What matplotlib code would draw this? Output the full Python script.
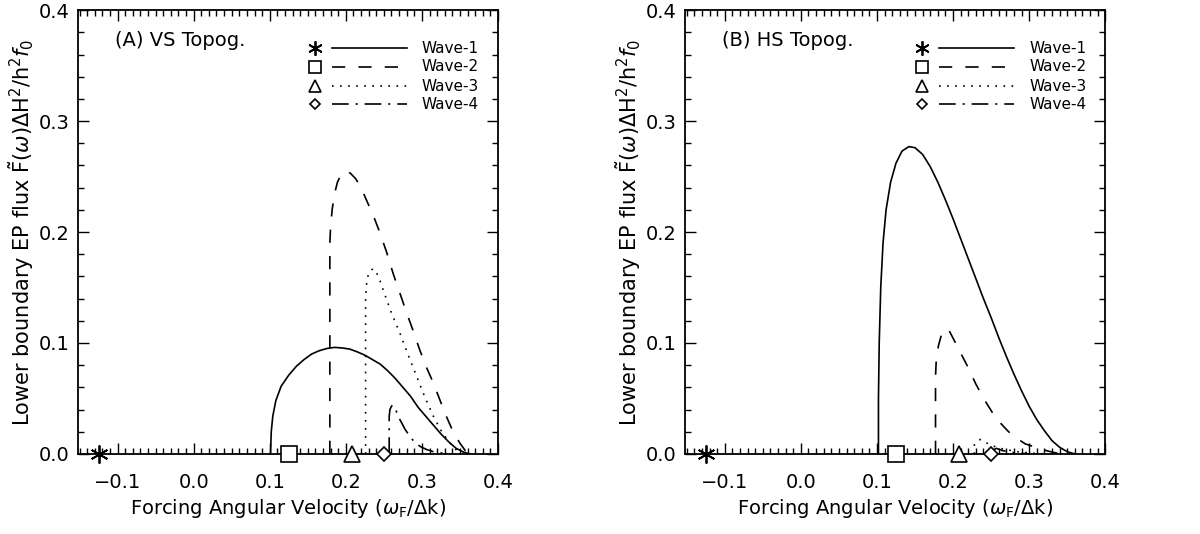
import matplotlib
matplotlib.use("Agg")
import matplotlib.pyplot as plt
from matplotlib.ticker import MultipleLocator

plt.rcParams['font.family'] = ['DejaVu Sans']
plt.rcParams['mathtext.fontset'] = 'dejavusans'
plt.rcParams['lines.scale_dashes'] = False

# ---------------- data ----------------
labels = ["Wave-1", "Wave-2", "Wave-3", "Wave-4"]
critical_x = [-0.125, 0.125, 0.208, 0.250]

# Panel A: VS Topog.
a_w1_x = [0.101, 0.102, 0.104, 0.108, 0.115, 0.125, 0.135, 0.145, 0.155, 0.165,
          0.175, 0.185, 0.195, 0.205, 0.215, 0.225, 0.235, 0.245, 0.255, 0.265,
          0.275, 0.285, 0.295, 0.305, 0.315, 0.325, 0.335, 0.345, 0.355, 0.363]
a_w1_y = [0.000, 0.020, 0.034, 0.048, 0.061, 0.071, 0.079, 0.085, 0.090, 0.093,
          0.095, 0.096, 0.0955, 0.0945, 0.092, 0.089, 0.085, 0.081, 0.075, 0.068,
          0.060, 0.052, 0.042, 0.034, 0.026, 0.018, 0.011, 0.005, 0.0015, 0.000]
a_w2_x = [0.179, 0.179, 0.180, 0.182, 0.185, 0.189, 0.194, 0.200, 0.206, 0.213,
          0.220, 0.227, 0.236, 0.245, 0.254, 0.262, 0.271, 0.280, 0.289, 0.297,
          0.306, 0.315, 0.324, 0.332, 0.341, 0.350, 0.357, 0.363]
a_w2_y = [0.000, 0.190, 0.205, 0.220, 0.234, 0.245, 0.252, 0.255, 0.253, 0.248,
          0.240, 0.229, 0.215, 0.199, 0.181, 0.163, 0.145, 0.127, 0.110, 0.094,
          0.078, 0.064, 0.048, 0.034, 0.020, 0.0096, 0.003, 0.000]
a_w3_x = [0.226, 0.226, 0.227, 0.229, 0.232, 0.236, 0.240, 0.245, 0.250, 0.260,
          0.271, 0.282, 0.293, 0.304, 0.315, 0.326, 0.337, 0.346, 0.354]
a_w3_y = [0.000, 0.140, 0.152, 0.160, 0.165, 0.167, 0.164, 0.156, 0.146, 0.127,
          0.109, 0.089, 0.070, 0.051, 0.034, 0.020, 0.0096, 0.003, 0.000]
a_w4_x = [0.257, 0.257, 0.258, 0.260, 0.262, 0.266, 0.271, 0.278, 0.284, 0.291,
          0.298, 0.306, 0.315, 0.333]
a_w4_y = [0.000, 0.034, 0.040, 0.043, 0.044, 0.039, 0.031, 0.022, 0.016, 0.010,
          0.0066, 0.004, 0.002, 0.000]

# Panel B: HS Topog.
b_w1_x = [0.102, 0.102, 0.103, 0.105, 0.108, 0.112, 0.118, 0.125, 0.133, 0.142,
          0.150, 0.160, 0.170, 0.180, 0.190, 0.200, 0.210, 0.220, 0.230, 0.240,
          0.250, 0.260, 0.270, 0.280, 0.290, 0.300, 0.310, 0.320, 0.330, 0.340,
          0.350, 0.360]
b_w1_y = [0.000, 0.050, 0.100, 0.150, 0.190, 0.220, 0.245, 0.262, 0.273, 0.277,
          0.276, 0.270, 0.259, 0.245, 0.229, 0.212, 0.194, 0.176, 0.158, 0.140,
          0.123, 0.105, 0.088, 0.072, 0.057, 0.043, 0.031, 0.021, 0.012, 0.006,
          0.002, 0.000]
b_w2_x = [0.177, 0.177, 0.178, 0.181, 0.185, 0.190, 0.195, 0.201, 0.210, 0.219,
          0.230, 0.241, 0.252, 0.262, 0.273, 0.284, 0.295, 0.306, 0.317, 0.328, 0.341]
b_w2_y = [0.000, 0.070, 0.085, 0.098, 0.108, 0.113, 0.111, 0.103, 0.091, 0.079,
          0.063, 0.049, 0.037, 0.028, 0.020, 0.014, 0.009, 0.0066, 0.004, 0.002, 0.000]
b_w3_x = [0.228, 0.228, 0.231, 0.236, 0.249, 0.262, 0.284, 0.306, 0.320]
b_w3_y = [0.000, 0.008, 0.011, 0.013, 0.008, 0.005, 0.002, 0.0006, 0.000]
b_w4_x = [0.254, 0.254, 0.257, 0.265, 0.280, 0.300]
b_w4_y = [0.000, 0.004, 0.005, 0.003, 0.001, 0.000]

panels = [
    ("(A) VS Topog.", [(a_w1_x, a_w1_y), (a_w2_x, a_w2_y), (a_w3_x, a_w3_y), (a_w4_x, a_w4_y)]),
    ("(B) HS Topog.", [(b_w1_x, b_w1_y), (b_w2_x, b_w2_y), (b_w3_x, b_w3_y), (b_w4_x, b_w4_y)]),
]

# ---------------- styles ----------------
styles = [
    dict(linestyle='-'),
    dict(linestyle=(0, (9.5, 9.5))),
    dict(linestyle=(0, (1.2, 4.6))),
    dict(linestyle=(0, (12, 5, 1.5, 5))),
]
markers = [dict(marker=(6, 2, 0), ms=13, mew=1.3),
           dict(marker='s', ms=11, mew=1.2),
           dict(marker='^', ms=11, mew=1.2),
           dict(marker='D', ms=7, mew=1.2)]

fig = plt.figure(figsize=(12, 5.34), dpi=100)
ax_pos = [[0.065, 0.150, 0.350, 0.831], [0.571, 0.150, 0.350, 0.831]]

for pos, (title, series) in zip(ax_pos, panels):
    ax = fig.add_axes(pos)
    for (xs, ys), st in zip(series, styles):
        ax.plot(xs, ys, color='black', lw=1.2, **st)
    for xc, mk in zip(critical_x, markers):
        ax.plot([xc], [0.0], color='black', mfc='white', linestyle='none',
                clip_on=False, zorder=5, **mk)
    ax.set_xlim(-0.152, 0.4)
    ax.set_ylim(0.0, 0.4)
    ax.xaxis.set_minor_locator(MultipleLocator(0.01))
    ax.yaxis.set_minor_locator(MultipleLocator(0.02))
    ax.set_xticks([-0.1, 0.0, 0.1, 0.2, 0.3, 0.4])
    ax.set_xticklabels(["\u22120.1", "0.0", "0.1", "0.2", "0.3", "0.4"])
    ax.set_yticks([0.0, 0.1, 0.2, 0.3, 0.4])
    ax.set_yticklabels(["0.0", "0.1", "0.2", "0.3", "0.4"])
    ax.tick_params(which='both', direction='in', top=True, right=True, width=1.0)
    ax.tick_params(which='major', length=8, labelsize=14)
    ax.tick_params(which='minor', length=4)
    ax.tick_params(axis='x', which='major', pad=14)
    ax.tick_params(axis='y', which='major', pad=6)
    for sp in ax.spines.values():
        sp.set_linewidth(1.3)
    ax.set_xlabel(r"Forcing Angular Velocity ($\omega_\mathrm{F}/\Delta$k)", fontsize=14,
                  labelpad=3)
    ax.set_ylabel(r"Lower boundary EP flux $\tilde{\mathrm{F}}(\omega)\Delta\mathrm{H}^2/\mathrm{h}^2 f_0$",
                  fontsize=15, labelpad=2)
    ax.text(0.088, 0.932, title, transform=ax.transAxes, fontsize=14,
            va='center', ha='left')
    # manual legend
    rows_y = [0.914, 0.872, 0.829, 0.788]
    for ry, lab, st, mk in zip(rows_y, labels, styles, markers):
        mk2 = dict(mk)
        mk2['ms'] = mk['ms'] * 0.8
        ax.plot([0.564], [ry], transform=ax.transAxes, color='black', mfc='white',
                linestyle='none', **mk2)
        ax.plot([0.605, 0.783], [ry, ry], transform=ax.transAxes, color='black',
                lw=1.2, **st)
        ax.text(0.819, ry, lab, transform=ax.transAxes, fontsize=11,
                va='center', ha='left')

fig.savefig("out.png", dpi=100)
